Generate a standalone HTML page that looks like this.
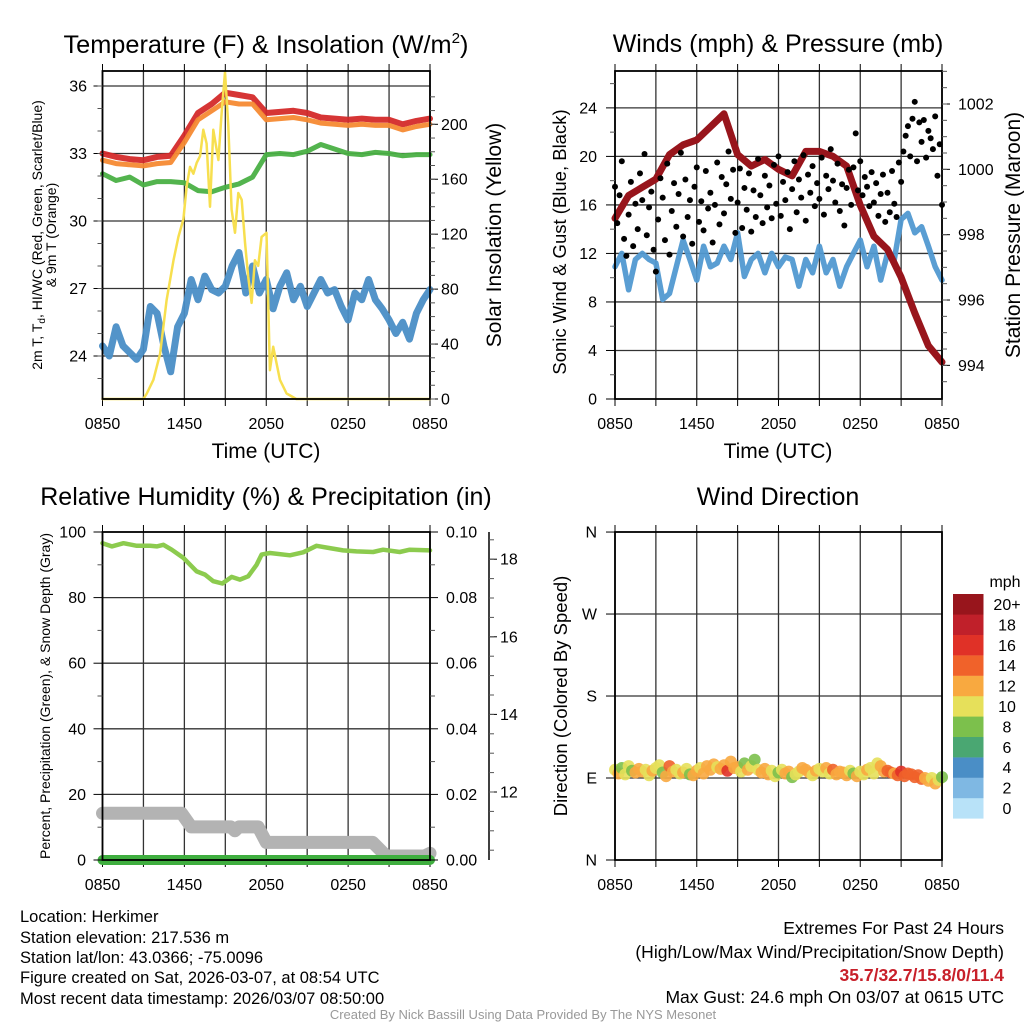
<!DOCTYPE html>
<html><head><meta charset="utf-8"><title>Herkimer Meteogram</title>
<style>
html,body{margin:0;padding:0;background:#fff;}
svg{display:block;font-family:"Liberation Sans",Arial,sans-serif;}
</style></head>
<body>
<svg id="chart" width="1024" height="1024" viewBox="0 0 1024 1024" xmlns="http://www.w3.org/2000/svg">
<rect width="1024" height="1024" fill="#fff"/>
<text x="266" y="53" font-size="25" text-anchor="middle" textLength="405" lengthAdjust="spacingAndGlyphs">Temperature (F) &amp; Insolation (W/m<tspan font-size="15" dy="-10">2</tspan><tspan dy="10">)</tspan></text>
<text x="778" y="52" font-size="25" text-anchor="middle">Winds (mph) &amp; Pressure (mb)</text>
<text x="266" y="505" font-size="25" text-anchor="middle">Relative Humidity (%) &amp; Precipitation (in)</text>
<text x="778" y="505" font-size="25" text-anchor="middle">Wind Direction</text>

<text x="266" y="458" font-size="21" text-anchor="middle">Time (UTC)</text>
<text x="778" y="458" font-size="21" text-anchor="middle">Time (UTC)</text>

<text transform="translate(42,235) rotate(-90)" font-size="14" text-anchor="middle">2m T, T<tspan font-size="10" dy="3">d</tspan><tspan dy="-3">, HI/WC (Red, Green, Scarlet/Blue)</tspan></text>
<text transform="translate(56,235) rotate(-90)" font-size="14" text-anchor="middle">&amp; 9m T (Orange)</text>
<text transform="translate(501,235) rotate(-90)" font-size="21" text-anchor="middle">Solar Insolation (Yellow)</text>
<text transform="translate(566,242) rotate(-90)" font-size="18.5" text-anchor="middle">Sonic Wind &amp; Gust (Blue, Black)</text>
<text transform="translate(1020,235) rotate(-90)" font-size="21" text-anchor="middle">Station Pressure (Maroon)</text>
<text transform="translate(50,696) rotate(-90)" font-size="14" text-anchor="middle">Percent, Precipitation (Green), &amp; Snow Depth (Gray)</text>
<text transform="translate(567,696) rotate(-90)" font-size="18.5" text-anchor="middle">Direction (Colored By Speed)</text>

<g font-size="16.5" fill="#000">
<text x="20" y="922">Location: Herkimer</text>
<text x="20" y="943">Station elevation: 217.536 m</text>
<text x="20" y="963">Station lat/lon: 43.0366; -75.0096</text>
<text x="20" y="983">Figure created on Sat, 2026-03-07, at 08:54 UTC</text>
<text x="20" y="1004">Most recent data timestamp: 2026/03/07 08:50:00</text>
</g>
<g font-size="17.5" text-anchor="end">
<text x="1004" y="934">Extremes For Past 24 Hours</text>
<text x="1004" y="958">(High/Low/Max Wind/Precipitation/Snow Depth)</text>
<text x="1004" y="981" fill="#c8202a" font-weight="bold">35.7/32.7/15.8/0/11.4</text>
<text x="1004" y="1003">Max Gust: 24.6 mph On 03/07 at 0615 UTC</text>
</g>
<text x="523" y="1019" font-size="13" fill="#999" text-anchor="middle">Created By Nick Bassill Using Data Provided By The NYS Mesonet</text>
<text x="1005" y="587" font-size="16" text-anchor="middle">mph</text>
</svg>
<script>
// ---- shared axis data ----
const timeTickLabels = ["0850","1450","2050","0250","0850"];
const timeTickHours = [0,6,12,18,24];
const gridHours = [0,3,6,9,12,15,18,21,24];

// ---- panel 1: temperature ----
const tempTicks = [24,27,30,33,36];
const solarTicks = [0,40,80,120,160,200];
const tempT = [33.0,32.85,32.75,32.7,32.85,32.9,33.8,34.8,35.2,35.7,35.6,35.5,34.8,34.85,34.9,34.8,34.6,34.55,34.5,34.55,34.5,34.5,34.3,34.45,34.55];
const temp9m = [32.7,32.55,32.5,32.45,32.55,32.6,33.5,34.5,34.9,35.3,35.2,35.2,34.5,34.55,34.6,34.5,34.35,34.3,34.25,34.3,34.25,34.25,34.05,34.2,34.3];
const dewpoint = [32.1,31.8,31.95,31.6,31.75,31.75,31.7,31.35,31.3,31.5,31.65,31.95,32.95,33.0,32.95,33.1,33.4,33.2,33.0,32.95,33.05,33.0,32.9,32.95,32.95];
const windChill = [24.45,24.0,25.3,24.45,24.15,23.85,24.3,26.2,25.9,24.45,23.3,25.3,25.9,27.4,26.5,27.55,26.95,26.8,27.1,28.0,28.6,26.8,28.0,26.8,27.4,26.1,27.1,27.7,26.5,27.1,26.2,26.8,27.4,26.8,26.95,26.2,25.6,26.8,26.5,27.4,26.5,26.1,25.6,25.0,25.5,24.75,25.9,26.5,26.95];
const solarHours = [0,3.0,3.25,3.73,4.22,4.7,5.2,5.56,5.93,6.17,6.41,6.66,6.9,7.15,7.39,7.63,7.88,8.12,8.49,8.73,8.98,9.22,9.46,9.71,9.95,10.2,10.44,10.68,10.93,11.17,11.41,11.66,12.02,12.27,12.51,13.0,13.49,14.2,24];
const solarValues = [0,0,4,14,33,72,101,118,131,155,169,164,172,177,196,186,140,196,174,208,238,199,138,121,150,145,114,89,70,101,97,118,121,21,38,14,4,0,0];

// ---- panel 2: winds ----
const windTicks = [0,4,8,12,16,20,24];
const pressureTicks = [994,996,998,1000,1002];
const pressure = [998.5,999.2,999.45,999.7,1000.45,1000.75,1000.9,1001.3,1001.7,1000.45,1000.1,1000.3,1000.0,999.8,1000.55,1000.55,1000.4,1000.1,998.9,997.95,997.55,996.7,995.6,994.6,994.1];
const sonicWind = [10.9,12.0,9.0,11.5,12.0,11.5,11.2,8.2,8.7,10.9,13.1,11.5,9.8,12.6,10.9,11.2,12.6,11.5,13.7,10.1,11.5,12.0,10.4,12.0,10.9,11.7,11.5,9.3,11.5,10.4,12.6,10.4,11.5,9.3,10.9,12.0,13.1,10.9,12.6,9.8,12.0,11.5,14.8,15.3,13.7,14.2,12.6,10.9,9.8];
const gusts = [17.5,14.5,16.8,19.6,13.2,11.8, 15.2,17.9,12.6,16.1,14.0,18.6, 16.4,20.2,13.5,15.8,17.1,12.3, 10.5,14.8,18.2,16.6,13.1,19.4, 11.9,15.5,17.8,14.2,16.9,20.3, 13.4,18.1,15.0,16.4,12.8,17.5, 19.1,14.6,16.3,13.9,18.8,15.7, 17.0,12.9,16.0,19.5,14.4,18.3, 15.3,17.7,20.4,16.5,18.9,13.7, 16.2,19.0,14.1,17.4,15.6,18.6, 13.8,17.2,15.0,19.8,16.8,14.5, 18.4,15.8,17.6,14.9,19.3,16.1, 20.0,15.1,17.9,16.4,18.7,14.0, 17.3,19.6,15.4,18.1,16.6,20.1, 14.7,18.5,17.0,19.2,15.9,17.8, 16.5,19.9,15.2,18.4,17.3,20.6, 18.0,16.2,19.4,15.5,17.7,14.3, 17.4,18.9,16.0,19.1,21.9,17.2, 19.6,16.8,18.3,17.5,15.9,18.7, 16.2,17.8,15.1,16.9,18.5,14.6, 17.0,15.4,18.8,16.1,15.0,19.5, 17.9,20.4,21.7,22.5,20.0,23.1, 24.5,19.6,22.8,21.2,23.0,19.9, 22.1,21.5,20.6,23.3,18.4,21.0, 16.0];

// ---- panel 3: humidity ----
const rhTicks = [0,20,40,60,80,100];
const precipTickLabels = ["0.00","0.02","0.04","0.06","0.08","0.10"];
const snowTicks = [12,14,16,18];
const rhHours = [0,0.68,1.54,2.51,3.49,3.98,4.46,5.07,5.93,6.9,7.51,8.12,8.78,9.46,10.07,10.68,11.29,11.66,12.27,13.73,14.71,15.68,16.66,17.63,18.61,19.83,20.56,21.78,22.51,24];
const rhValues = [96.6,95.6,96.6,95.8,95.8,95.6,96.1,94.6,92.1,88.0,87.0,85.0,84.3,86.3,85.5,86.5,90.0,93.1,93.6,92.9,93.8,95.8,95.1,94.4,94.1,93.9,94.6,93.9,94.6,94.4];
const snowHours = [0,5.8,6.5,9.4,9.7,10.0,11.4,12.0,19.8,20.8,23.6,24];
const snowDepth = [11.45,11.45,11.1,11.1,11.0,11.1,11.1,10.7,10.7,10.35,10.35,10.42];
const precipHours = [0,24];
const precipValues = [0,0];

// ---- panel 4: direction ----
const dirTickLabels = ["N","E","S","W","N"];
const dirTickValues = [0,90,180,270,360];
const windDir = [99,95,101,94, 103,98,96,100, 97,99,93,98, 101,104,96,92, 103,97,99,95, 96,100,94,93, 98,101,95,103, 99,105,102,100, 104,98,108,101, 102,97,106,99, 103,110,99,96, 100,94,98,92, 96,99,95,97, 91,94,97,101, 99,96,93,98, 100,97,101,95, 99,94,97,96, 93,98,95,92, 97,94,99,101, 95,106,103,97, 98,96,95,93, 97,92,95,94, 91,93,89,90, 87,90,84,88, 91];
const dirSpeed = [10.5,12.5,9,11, 10.8,9.5,12.4,12.8, 12.2,11.5,10.3,12.6, 11,10.2,8.8,12.3, 14.5,12.7,11.4,10.6, 12.5,11.2,9.1,12.4, 12.8,10.9,12.3,12.6, 12.2,13.0,11.1,12.7, 12.4,16.5,12.8,13.1, 12.5,10.5,9.2,12.3, 11.8,8.5,10.6,12.7, 12.2,13.1,11.5,10.4, 9.5,11.6,12.3,12.4, 8.8,10.6,11.2,12.5, 12.3,12.9,11.7,12.4, 10.8,11.3,12.6,11.1, 14.2,12.6,12.1,13.0, 12.4,11.6,9.3,12.2, 11.0,10.4,12.5,11.2, 11.4,11.6,12.3,12.8, 14.6,15.2,12.4,14.1, 16.3,14.8,15.6,14.3, 14.9,15.8,14.4,12.6, 12.4,11.5,12.9,10.5, 9.5];
const legendLabels = ["0","2","4","6","8","10","12","14","16","18","20+"];
const speedColors = ["#b8e2f8","#7fb8e3","#4a8ec6","#4aa772","#7cc04c","#e6e05a","#f8a940","#f0622a","#e03127","#c0202a","#98151c"];

const NS = "http://www.w3.org/2000/svg";
const svg = document.getElementById("chart");
function mk(tag, attrs, parent){
  const e = document.createElementNS(NS, tag);
  for (const k in attrs) e.setAttribute(k, attrs[k]);
  (parent || svg).appendChild(e);
  return e;
}
const P1 = {x0:102.5,x1:430,y0:71,y1:399};
const P2 = {x0:615,x1:942,y0:71,y1:399};
const P3 = {x0:102.5,x1:430,y0:532,y1:860};
const P4 = {x0:615,x1:942,y0:532,y1:860};
function xT(p,t){ return p.x0 + t/24*(p.x1-p.x0); }
const yTemp = v => 86 + (36-v)*22.5;
const ySolar = v => 399 - v*1.3735;
const yWind = v => 399 - v*12.13;
const yPres = v => 104 + (1002-v)*32.67;
const yRH = v => 860 - v*3.28;
const yPrecip = v => 860 - v*3280;
const ySnow = v => 792 - (v-12)*38.8;
const yDir = v => 860 - v*0.911;

function pathD(p, ts, vs, yf){
  let d = "";
  for (let i=0;i<vs.length;i++){ d += (i?"L":"M") + xT(p,ts[i]).toFixed(1) + "," + yf(vs[i]).toFixed(1); }
  return d;
}
function idxHours(n){ const a=[]; for(let i=0;i<n;i++) a.push(i*24/(n-1)); return a; }

function frame(p, name, gridYs){
  const g = mk("g", {});
  
  
  gridHours.forEach(h => {
    const l = mk("line", {x1:xT(p,h),x2:xT(p,h),y1:p.y0,y2:p.y1,stroke:"#333","stroke-width":1.3}, g);
    
    
    const tb = mk("line", {x1:xT(p,h),x2:xT(p,h),y1:p.y1,y2:p.y1+7,stroke:"#000","stroke-width":1}, g);
    
    
    const tt = mk("line", {x1:xT(p,h),x2:xT(p,h),y1:p.y0,y2:p.y0-7,stroke:"#000","stroke-width":1}, g);
    
    
  });
  gridYs.forEach(y => {
    const l = mk("line", {x1:p.x0,x2:p.x1,y1:y,y2:y,stroke:"#333","stroke-width":1.3}, g);
    
    
  });
  timeTickHours.forEach((h,i) => {
    const t = mk("text", {x:xT(p,h),y:p.y1+30,"font-size":16,"text-anchor":"middle"}, g);
    t.textContent = timeTickLabels[i];
    
    
  });
}
function border(p, name){
  const r = mk("rect", {x:p.x0,y:p.y0,width:p.x1-p.x0,height:p.y1-p.y0,fill:"none",stroke:"#000","stroke-width":1.8});
  
  
}
function leftTicks(p, vals, labels, yf, minorVals, lx){
  vals.forEach((v,i) => {
    const l = mk("line", {x1:p.x0-9,x2:p.x0,y1:yf(v),y2:yf(v),stroke:"#000","stroke-width":1});
    
    
    const t = mk("text", {x:lx,y:yf(v)+5.5,"font-size":16,"text-anchor":"end"});
    t.textContent = labels[i];
    
    
  });
  minorVals.forEach(v => {
    const l = mk("line", {x1:p.x0-5,x2:p.x0,y1:yf(v),y2:yf(v),stroke:"#555","stroke-width":1});
    
    
  });
}
function rightTicks(ax, vals, labels, yf, minorVals, lx){
  vals.forEach((v,i) => {
    const l = mk("line", {x1:ax,x2:ax+8,y1:yf(v),y2:yf(v),stroke:"#000","stroke-width":1});
    
    
    const t = mk("text", {x:lx,y:yf(v)+5.5,"font-size":16,"text-anchor":"start"});
    t.textContent = labels[i];
    
    
  });
  minorVals.forEach(v => {
    const l = mk("line", {x1:ax,x2:ax+5,y1:yf(v),y2:yf(v),stroke:"#555","stroke-width":1});
    
    
  });
}
function range(a,b,s){ const r=[]; for(let v=a; v<=b+1e-9; v+=s) r.push(+v.toFixed(4)); return r; }
function line(p, ts, vs, yf, color, w, name, op){
  const e = mk("path", {d:pathD(p,ts,vs,yf),fill:"none",stroke:color,"stroke-width":w,"stroke-linejoin":"round","stroke-linecap":"round","opacity":op||1});
  
  
}

// Panel 1
frame(P1, "temperature", tempTicks.map(yTemp));
line(P1, idxHours(windChill.length), windChill, yTemp, "#4a8ec6", 7, "wind-chill-line", 0.95);
line(P1, idxHours(tempT.length), tempT, yTemp, "#d42a2a", 6, "temperature-line", 0.95);
line(P1, idxHours(temp9m.length), temp9m, yTemp, "#f58a33", 5, "temperature-9m-line", 0.95);
line(P1, idxHours(dewpoint.length), dewpoint, yTemp, "#4ab045", 5, "dewpoint-line", 0.95);
line(P1, solarHours, solarValues, ySolar, "#f7df4f", 2.5, "solar-insolation-line");
border(P1, "temperature");
leftTicks(P1, tempTicks, tempTicks.map(String), yTemp, range(23,36,1), 87);
rightTicks(P1.x1, solarTicks, solarTicks.map(String), ySolar, range(0,220,10), 441);

// Panel 2
frame(P2, "winds", windTicks.filter(v=>v>0).map(yWind));
line(P2, idxHours(sonicWind.length), sonicWind, yWind, "#5199d1", 5.5, "sonic-wind-line", 0.95);
line(P2, idxHours(pressure.length), pressure, yPres, "#98151c", 7, "pressure-line");
gusts.forEach((g,i) => {
  const c = mk("circle", {cx:xT(P2, i*24/(gusts.length-1)), cy:yWind(g), r:3, fill:"#000"});
  
  
});
border(P2, "winds");
leftTicks(P2, windTicks, windTicks.map(String), yWind, range(2,26,4), 597);
rightTicks(P2.x1, pressureTicks, pressureTicks.map(String), yPres, range(993.5,1003,0.5), 958);

// Panel 3
frame(P3, "humidity", rhTicks.filter(v=>v>0&&v<100).map(yRH));
line(P3, snowHours, snowDepth, ySnow, "#b3b3b3", 13, "snow-depth-line");
line(P3, precipHours, precipValues, yPrecip, "#3fae3f", 10, "precipitation-line");
line(P3, rhHours, rhValues, yRH, "#8ccb4e", 4.5, "relative-humidity-line");
border(P3, "humidity");
leftTicks(P3, rhTicks, rhTicks.map(String), yRH, range(10,90,20), 86);
rightTicks(P3.x1, [0,0.02,0.04,0.06,0.08,0.1], precipTickLabels, yPrecip, range(0.01,0.09,0.02), 446);
const snowAxis = mk("line", {x1:489,x2:489,y1:532,y2:860,stroke:"#000","stroke-width":1.5});


rightTicks(489, snowTicks, snowTicks.map(String), ySnow, range(10.5,18.5,0.5), 500);

// Panel 4
frame(P4, "direction", [90,180,270].map(yDir));
function speedColor(s){ return speedColors[Math.min(10, Math.max(0, Math.floor(s/2)))]; }
windDir.forEach((d,i) => {
  const c = mk("circle", {cx:xT(P4, i*24/(windDir.length-1)), cy:yDir(d), r:6, fill:speedColor(dirSpeed[i]), opacity:0.9});
  
  
});
border(P4, "direction");
leftTicks(P4, dirTickValues, dirTickLabels, yDir, [], 597);

// Legend
speedColors.forEach((c,i) => {
  const y = 594 + (10-i)*20.4;
  const r = mk("rect", {x:953, y:y, width:30.5, height:20.6, fill:c});
  
  
  const t = mk("text", {x:1007, y:y+16, "font-size":16, "text-anchor":"middle"});
  t.textContent = legendLabels[i];
  
  
});
</script>
</body></html>
